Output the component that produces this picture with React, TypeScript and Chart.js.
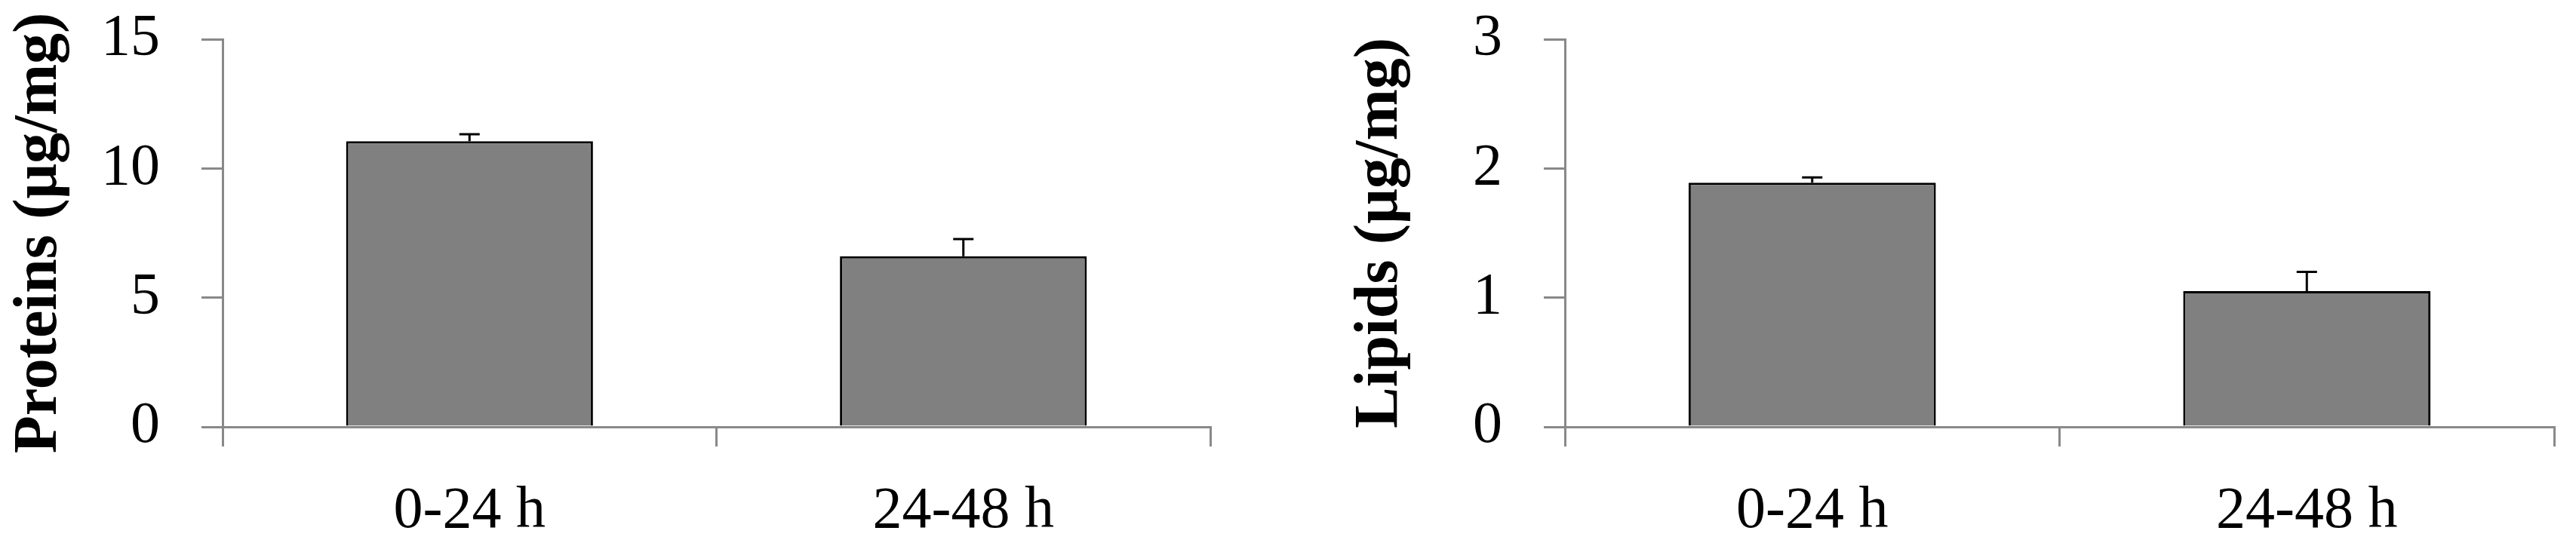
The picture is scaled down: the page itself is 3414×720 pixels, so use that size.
import React, { useEffect, useRef } from "react";
import { Chart, registerables } from "chart.js";

Chart.register(...registerables);

// ---- data ----
const categories = ["0-24 h", "24-48 h"];
const proteinValues = [11.05, 6.6];
const proteinErrors = [0.27, 0.67];
const proteinTicks = [0, 5, 10, 15];
const lipidValues = [1.89, 1.05];
const lipidErrors = [0.04, 0.15];
const lipidTicks = [0, 1, 2, 3];

const FONT = "'Liberation Serif', 'Times New Roman', serif";
const AXIS_GRAY = "#898989";

const errorBarPlugin = {
  id: "errorBars",
  afterDatasetsDraw(chart: any, _args: any, opts: any) {
    const errs: number[] = opts.errors || [];
    const meta = chart.getDatasetMeta(0);
    const yScale = chart.scales.y;
    const ctx = chart.ctx;
    ctx.save();
    ctx.strokeStyle = "#000000";
    ctx.lineWidth = 3;
    meta.data.forEach((bar: any, i: number) => {
      const v = chart.data.datasets[0].data[i] as number;
      const top = yScale.getPixelForValue(v + errs[i]);
      const x = bar.x;
      ctx.beginPath();
      ctx.moveTo(x, bar.y);
      ctx.lineTo(x, top);
      ctx.moveTo(x - 13.5, top);
      ctx.lineTo(x + 13.5, top);
      ctx.stroke();
    });
    ctx.restore();
  },
};

type PanelProps = {
  left: number;
  width: number;
  values: number[];
  errors: number[];
  ticks: number[];
  title: string;
  rightPad: number;
  titlePad: number;
};

function Panel(p: PanelProps) {
  const ref = useRef<HTMLCanvasElement | null>(null);
  useEffect(() => {
    if (!ref.current) return;
    const maxV = p.ticks[p.ticks.length - 1];
    const chart = new Chart(ref.current, {
      type: "bar",
      data: {
        labels: categories,
        datasets: [
          {
            data: p.values,
            backgroundColor: "#808080",
            borderColor: "#000000",
            borderWidth: 3,
            barPercentage: 0.5,
            categoryPercentage: 1,
          },
        ],
      },
      plugins: [errorBarPlugin],
      options: {
        responsive: false,
        animation: false,
        devicePixelRatio: 1,
        layout: { padding: { left: 0, right: p.rightPad, top: 52, bottom: 0 } },
        plugins: {
          legend: { display: false },
          tooltip: { enabled: false },
          errorBars: { errors: p.errors },
        } as any,
        scales: {
          x: {
            border: { color: AXIS_GRAY, width: 3 },
            grid: {
              offset: true,
              drawOnChartArea: false,
              drawTicks: true,
              tickLength: 26,
              color: AXIS_GRAY,
              lineWidth: 3,
            },
            ticks: { color: "#000", font: { family: FONT, size: 78 }, padding: 40 },
            afterFit: (s: any) => {
              s.height = 154;
              s.paddingLeft = 0;
              s.paddingRight = 0;
            },
          },
          y: {
            min: 0,
            max: maxV,
            afterBuildTicks: (s: any) => {
              s.ticks = p.ticks.map((v) => ({ value: v }));
            },
            border: { color: AXIS_GRAY, width: 3 },
            grid: {
              drawOnChartArea: false,
              drawTicks: true,
              tickLength: 28,
              color: AXIS_GRAY,
              lineWidth: 3,
            },
            ticks: { color: "#000", font: { family: FONT, size: 78 }, padding: 55 },
            title: {
              display: true,
              text: p.title,
              color: "#000",
              font: { family: FONT, size: 82, weight: "bold" },
              padding: { top: p.titlePad, bottom: 0 },
            },
            afterFit: (s: any) => {
              s.width = 295;
              s.paddingTop = 0;
              s.paddingBottom = 0;
            },
          },
        },
      } as any,
    });
    return () => chart.destroy();
  }, []);
  return (
    <canvas
      ref={ref}
      width={p.width}
      height={720}
      style={{ position: "absolute", left: p.left, top: 0, width: p.width, height: 720 }}
    />
  );
}

export default function App() {
  return (
    <div style={{ position: "absolute", left: 0, top: 0, width: 3414, height: 720, background: "#fff" }}>
      <Panel
        left={0}
        width={1707}
        values={proteinValues}
        errors={proteinErrors}
        ticks={proteinTicks}
        title="Proteins (μg/mg)"
        rightPad={103}
        titlePad={4}
      />
      <Panel
        left={1779}
        width={1635}
        values={lipidValues}
        errors={lipidErrors}
        ticks={lipidTicks}
        title="Lipids (μg/mg)"
        rightPad={29}
        titlePad={2}
      />
    </div>
  );
}
